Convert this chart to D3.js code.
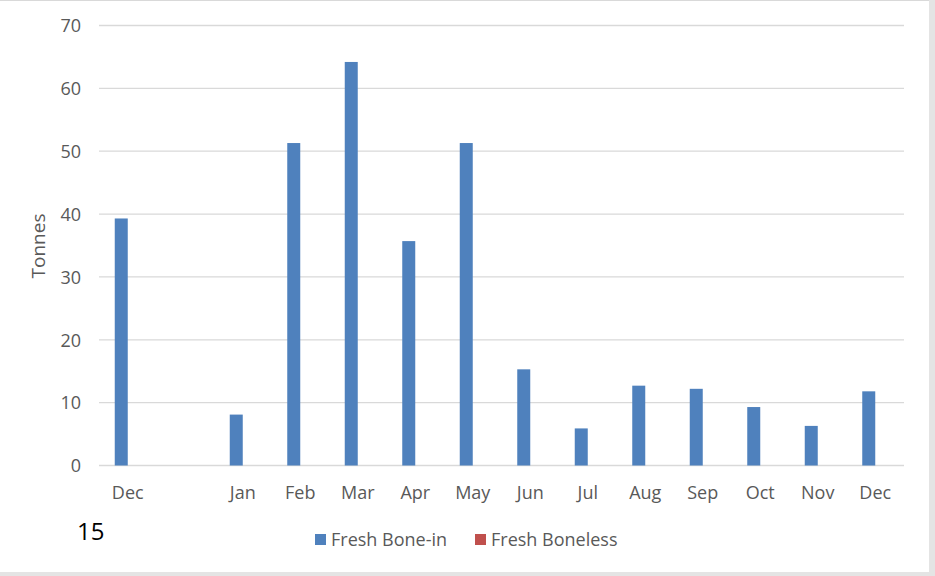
<!DOCTYPE html>
<html><head><meta charset="utf-8">
<script src="https://cdn.jsdelivr.net/npm/d3@7"></script>
<style>body{margin:0;background:#fff}svg{display:block}</style>
</head><body>
<script>
const categories = ["Dec0", "gap", "Jan", "Feb", "Mar", "Apr", "May", "Jun", "Jul", "Aug", "Sep", "Oct", "Nov", "Dec"];
const categoryLabels = ["Dec", "", "Jan", "Feb", "Mar", "Apr", "May", "Jun", "Jul", "Aug", "Sep", "Oct", "Nov", "Dec"];
const freshBoneIn = [39.3, null, 8.1, 51.3, 64.2, 35.7, 51.3, 15.3, 5.9, 12.7, 12.2, 9.3, 6.3, 11.8];
const freshBoneless = [0, null, 0, 0, 0, 0, 0, 0, 0, 0, 0, 0, 0, 0];
const seriesNames = ["Fresh Bone-in", "Fresh Boneless"];
const yTicks = [0, 10, 20, 30, 40, 50, 60, 70];

const W = 935, H = 576;
const colors = ["#4F81BD", "#C0504D"];
const font = "'Open Sans', 'Liberation Sans', sans-serif";
const svg = d3.select("body").append("svg").attr("width", W).attr("height", H);

// frame
svg.append("rect").attr("x", 0).attr("y", 0).attr("width", W).attr("height", H).attr("fill", "#fff");
svg.append("rect").attr("x", 929).attr("y", 0).attr("width", 6).attr("height", H).attr("fill", "#e4e4e4");
svg.append("rect").attr("x", 0).attr("y", 572).attr("width", W).attr("height", 4).attr("fill", "#e4e4e4");
svg.append("line").attr("x1", 0).attr("x2", 929).attr("y1", 0.5).attr("y2", 0.5).attr("stroke", "#d9d9d9");

const x = d3.scaleBand().domain(categories).range([99, 904]).paddingInner(0).paddingOuter(0);
const y = d3.scaleLinear().domain([0, 70]).range([465.5, 25.5]);

// gridlines
svg.append("g").selectAll("line").data(yTicks).join("line")
  .attr("x1", 99).attr("x2", 904)
  .attr("y1", d => y(d)).attr("y2", d => y(d))
  .attr("stroke", "#d9d9d9").attr("stroke-width", 1.3);

// y axis labels
const yAxis = d3.axisLeft(y).tickValues(yTicks).tickSize(0).tickPadding(0);
const gy = svg.append("g").attr("transform", "translate(81,0)").call(yAxis);
gy.select(".domain").remove();
gy.selectAll("text").attr("font-family", font).attr("font-size", 18).attr("fill", "#595959").attr("dy", "0.35em");

// x axis labels
const xAxis = d3.axisBottom(x).tickFormat((d, i) => categoryLabels[i]).tickSize(0).tickPadding(0);
const gx = svg.append("g").attr("transform", "translate(0,0)").call(xAxis);
gx.select(".domain").remove();
gx.selectAll("text").attr("font-family", font).attr("font-size", 18).attr("fill", "#595959")
  .attr("y", 499).attr("dy", 0);

// bars
const barW = 13;
const series = [freshBoneIn, freshBoneless];
series.forEach((vals, si) => {
  svg.append("g").selectAll("rect")
    .data(vals.map((v, i) => ({ c: categories[i], v })).filter(d => d.v !== null && d.v > 0))
    .join("rect")
    .attr("x", d => x(d.c) + x.bandwidth() / 2 - barW + si * barW)
    .attr("width", barW)
    .attr("y", d => y(d.v))
    .attr("height", d => y(0) - y(d.v))
    .attr("fill", colors[si]);
});

// y title
svg.append("text").attr("transform", "translate(45,246) rotate(-90)")
  .attr("text-anchor", "middle").attr("font-family", font).attr("font-size", 19)
  .attr("fill", "#595959").text("Tonnes");

// "15"
svg.append("text").attr("x", 77).attr("y", 540).attr("font-family", font).attr("font-size", 24)
  .attr("fill", "#000").text("15");

// legend
const legX = [315, 475];
seriesNames.forEach((n, i) => {
  svg.append("rect").attr("x", legX[i]).attr("y", 534).attr("width", 11).attr("height", 11).attr("fill", colors[i]);
  svg.append("text").attr("x", legX[i] + 16).attr("y", 546).attr("font-family", font).attr("font-size", 18)
    .attr("fill", "#595959").text(n);
});
</script>
</body></html>
